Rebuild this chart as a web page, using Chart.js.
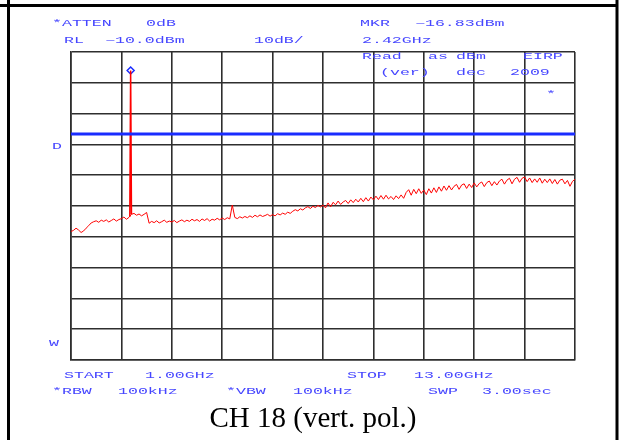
<!DOCTYPE html>
<html>
<head>
<meta charset="utf-8">
<script src="https://cdn.jsdelivr.net/npm/chart.js@4.4.0/dist/chart.umd.min.js"></script>
<style>
  html, body { margin: 0; padding: 0; background: #fff; }
  #wrap { position: relative; width: 622px; height: 440px; }
</style>
</head>
<body>
<div id="wrap"><canvas id="myChart" width="622" height="440"></canvas></div>
<script>
// sweep 1.00 - 13.00 GHz, one reading every 60 MHz
var sweepStart = 1.0;
var sweepStep = 0.06;
var xTicks = [1.0, 2.2, 3.4, 4.6, 5.8, 7.0, 8.2, 9.4, 10.6, 11.8, 13.0];
var yTicks = [-110, -100, -90, -80, -70, -60, -50, -40, -30, -20, -10];

// trace in dBm
var traceLevels = [
    -68.3, -67.9, -67.2, -67.8, -68.6, -68.1, -67.2, -66.4, -65.5, -65.1,
    -64.8, -65.3, -64.6, -65.0, -64.5, -65.2, -64.7, -64.2, -64.9, -64.4,
    -64.1, -63.6, -64.3, -63.7, -62.7, -62.4, -63.0, -62.6, -63.2, -62.7,
    -62.1, -65.6, -65.0, -65.4, -64.8, -65.5, -65.1, -64.6, -65.3, -64.9,
    -65.2, -64.7, -65.4, -64.9, -64.5, -65.1, -64.6, -65.0, -64.3, -64.8,
    -64.4, -65.0, -64.2, -64.7, -64.1, -64.9, -64.3, -64.6, -64.0, -64.5,
    -63.9, -64.4, -63.8, -64.2, -59.7, -63.7, -64.1, -63.5, -63.9, -63.4,
    -63.8, -63.2, -63.7, -63.0, -63.5, -62.9, -63.4, -63.1, -62.7, -63.3,
    -62.8, -63.2, -62.5, -62.9, -62.3, -62.7, -62.0, -62.4, -61.7, -61.2,
    -61.6, -60.9, -61.3, -60.6, -60.2, -60.8, -60.1, -60.5, -59.8, -60.3,
    -59.7, -60.6, -59.0, -60.3, -58.8, -59.6, -58.4, -59.5, -58.7, -58.2,
    -59.2, -58.0, -58.9, -57.8, -58.7, -57.5, -58.6, -57.3, -58.4, -57.1,
    -58.0, -56.8, -57.9, -56.6, -57.8, -56.5, -57.7, -56.9, -57.9, -56.7,
    -57.6, -56.4, -57.5, -55.6, -54.7, -56.5, -54.6, -56.0, -54.4, -55.9,
    -54.8, -56.3, -54.4, -55.8, -54.1, -55.6, -53.8, -55.2, -53.5, -54.9,
    -53.4, -54.8, -53.6, -53.0, -54.6, -53.2, -52.8, -54.3, -52.9, -54.0,
    -52.5, -53.8, -52.7, -52.2, -53.7, -52.4, -51.9, -53.4, -52.1, -53.2,
    -51.9, -51.3, -52.9, -51.6, -51.0, -52.8, -51.3, -50.7, -52.3, -51.0,
    -50.6, -52.1, -50.9, -52.4, -51.2, -52.3, -50.9, -52.6, -51.3, -52.4,
    -51.2, -52.7, -51.4, -52.9, -51.6, -51.3, -52.8, -51.7, -53.6, -52.0, -51.3
];

// carrier at the marker
var carrierFreqs = [2.40, 2.42, 2.44];
var carrierLevels = [-63.5, -16.0, -62.7];
var markerFreq = 2.42;
var markerLevel = -16.0;

// limit line
var limitFreqs = [1.0, 13.0];
var limitLevels = [-36.6, -36.6];

// analyzer annotations
var headerRow1 = ['*ATTEN', '0dB', 'MKR', '\u221216.83dBm'];
var headerRow2 = ['RL', '\u221210.0dBm', '10dB/', '2.42GHz'];
var noteRow1 = ['Read', 'as', 'dBm', 'EIRP'];
var noteRow2 = ['(ver)', 'dec', '2009'];
var footerRow1 = ['START', '1.00GHz', 'STOP', '13.00GHz'];
var footerRow2 = ['*RBW', '100kHz', '*VBW', '100kHz', 'SWP', '3.00sec'];
var sideLabels = ['D', 'W'];
var caption = 'CH 18 (vert. pol.)';

function toPoints(xs, ys) {
    return ys.map(function (v, i) { return { x: xs[i], y: v }; });
}

var traceData = traceLevels.map(function (v, i) {
    return { x: +(sweepStart + i * sweepStep).toFixed(2), y: v };
});

var blue = 'rgb(70, 70, 255)';

var annotate = {
    id: 'annotate',
    afterDraw: function (chart) {
        var ctx = chart.ctx;
        ctx.save();
        // outer frame
        ctx.fillStyle = '#000';
        ctx.fillRect(0, 4, 618, 3);
        ctx.fillRect(7, 0, 3, 440);
        ctx.fillRect(615.5, 0, 3, 440);

        // plotter-style wide text
        function put(txt, x, y) {
            ctx.save();
            ctx.translate(x, y);
            ctx.scale(1.95, 1);
            ctx.font = '8.5px "Liberation Mono", "DejaVu Sans Mono", monospace';
            ctx.fillStyle = blue;
            ctx.textBaseline = 'middle';
            ctx.textAlign = 'left';
            ctx.fillText(txt, 0, 0);
            ctx.restore();
        }
        var r1x = [52, 146, 360, 415];
        headerRow1.forEach(function (t, i) { put(t, r1x[i], 23.5); });
        var r2x = [64, 105, 254, 362];
        headerRow2.forEach(function (t, i) { put(t, r2x[i], 40.5); });
        var n1x = [362, 428, 456, 523];
        noteRow1.forEach(function (t, i) { put(t, n1x[i], 57); });
        var n2x = [380, 456, 510];
        noteRow2.forEach(function (t, i) { put(t, n2x[i], 73); });
        put('*', 546, 95);
        put(sideLabels[0], 52, 147);
        put(sideLabels[1], 49, 344);
        var f1x = [64, 145, 347, 414];
        footerRow1.forEach(function (t, i) { put(t, f1x[i], 376); });
        var f2x = [52, 118, 226, 293, 428, 482];
        footerRow2.forEach(function (t, i) { put(t, f2x[i], 392); });

        // caption
        ctx.font = '29px "Liberation Serif", "Times New Roman", serif';
        ctx.fillStyle = '#000';
        ctx.textAlign = 'center';
        ctx.textBaseline = 'middle';
        ctx.fillText(caption, 313, 419);
        ctx.restore();
    }
};

var gridColor = '#2e2e2e';

var ctx = document.getElementById('myChart').getContext('2d');
var myChart = new Chart(ctx, {
    type: 'line',
    data: {
        datasets: [
            {
                label: 'limit',
                data: toPoints(limitFreqs, limitLevels),
                borderColor: '#1a2cff',
                borderWidth: 3,
                pointRadius: 0
            },
            {
                label: 'trace',
                data: traceData,
                borderColor: '#ff0000',
                borderWidth: 1,
                pointRadius: 0,
                tension: 0
            },
            {
                label: 'carrier',
                data: toPoints(carrierFreqs, carrierLevels),
                borderColor: '#ff0000',
                borderWidth: 1.5,
                pointRadius: 0
            },
            {
                label: 'marker',
                data: [{ x: markerFreq, y: markerLevel }],
                showLine: false,
                pointStyle: 'rectRot',
                pointRadius: 3.5,
                pointBorderWidth: 1.5,
                pointBorderColor: '#1a2cff',
                pointBackgroundColor: '#fff'
            }
        ]
    },
    options: {
        responsive: false,
        animation: false,
        layout: { padding: { left: 71, top: 52, right: 47, bottom: 80 } },
        plugins: {
            legend: { display: false },
            tooltip: { enabled: false }
        },
        scales: {
            x: {
                type: 'linear',
                min: 1,
                max: 13,
                afterBuildTicks: function (s) {
                    s.ticks = xTicks.map(function (v) { return { value: v }; });
                },
                afterFit: function (s) { s.height = 0; },
                ticks: { display: false },
                grid: { color: gridColor, lineWidth: 1.6, drawTicks: false },
                border: { color: gridColor, width: 1.6 }
            },
            y: {
                type: 'linear',
                min: -110,
                max: -10,
                afterBuildTicks: function (s) {
                    s.ticks = yTicks.map(function (v) { return { value: v }; });
                },
                afterFit: function (s) { s.width = 0; },
                ticks: { display: false },
                grid: { color: gridColor, lineWidth: 1.6, drawTicks: false },
                border: { color: gridColor, width: 1.6 }
            }
        }
    },
    plugins: [annotate]
});
</script>
</body>
</html>
